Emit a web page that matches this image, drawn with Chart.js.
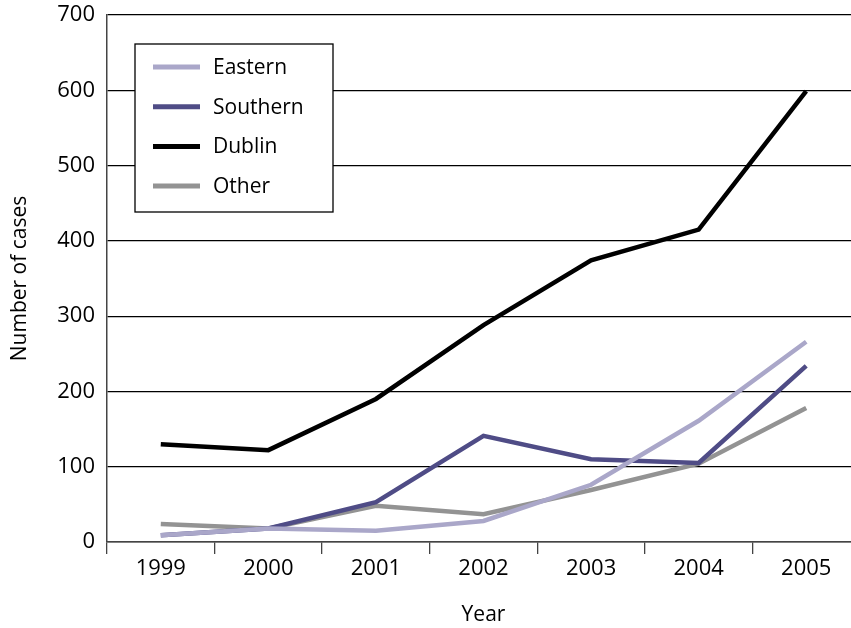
<!DOCTYPE html>
<html><head><meta charset="utf-8">
<script src="https://cdn.jsdelivr.net/npm/chart.js@4.4.0/dist/chart.umd.min.js"></script>
<style>
html,body{margin:0;padding:0;background:#fff;overflow:hidden;width:851px;height:628px}
#wrap{width:880px;height:628px;position:relative}
</style></head>
<body><div id="wrap"><canvas id="c" width="880" height="628"></canvas></div>
<script>
const years = ['1999','2000','2001','2002','2003','2004','2005'];
const eastern  = [9, 18, 15, 28, 76, 161, 266];
const southern = [9, 18, 53, 141, 110, 105, 234];
const dublin   = [130, 122, 190, 288, 374, 415, 599];
const other    = [24, 18, 48, 37, 69, 104, 178];
const seriesNames = ['Eastern','Southern','Dublin','Other'];
const seriesColors = ['#aaa7c9','#4f4c86','#000000','#939393'];
const yTicks = [0,100,200,300,400,500,600,700];

const FONT = '"Open Sans", Lato, sans-serif';

const legendPlugin = {
  id: 'boxLegend',
  afterDraw(chart){
    const ctx = chart.ctx;
    const x0 = 135, y0 = 44, w = 198, h = 168;
    ctx.save();
    ctx.fillStyle = '#fff';
    ctx.fillRect(x0, y0, w, h);
    ctx.strokeStyle = '#000';
    ctx.lineWidth = 1.3;
    ctx.strokeRect(x0, y0, w, h);
    ctx.font = '21px ' + FONT;
    ctx.textBaseline = 'middle';
    chart.data.datasets.forEach((ds, i) => {
      const y = 67 + i * 39.7;
      ctx.strokeStyle = ds.borderColor;
      ctx.lineWidth = 5;
      ctx.beginPath();
      ctx.moveTo(153, y);
      ctx.lineTo(200, y);
      ctx.stroke();
      ctx.fillStyle = '#000';
      ctx.fillText(ds.label, 213, y + 1);
    });
    ctx.restore();
  }
};

const dataArrays = [eastern, southern, dublin, other];
new Chart(document.getElementById('c'), {
  type: 'line',
  data: {
    labels: years,
    datasets: seriesNames.map((n, i) => ({
      label: n,
      data: dataArrays[i],
      borderColor: seriesColors[i],
      backgroundColor: seriesColors[i],
      borderWidth: 4.5,
      pointRadius: 0,
      tension: 0,
      borderJoinStyle: 'miter',
      fill: false
    }))
  },
  options: {
    responsive: false,
    animation: false,
    layout: { padding: { top: 15, right: 20, left: 0, bottom: 0 } },
    plugins: { legend: { display: false }, tooltip: { enabled: false } },
    scales: {
      x: {
        type: 'category',
        offset: true,
        grid: { display: true, drawOnChartArea: false, drawTicks: true, tickLength: 12, color: '#444', lineWidth: 1.3, offset: true },
        border: { display: true, color: '#444', width: 1.5 },
        ticks: { color: '#000', font: { family: FONT, size: 22 }, padding: 2, maxRotation: 0 },
        title: { display: true, text: 'Year', color: '#000', font: { family: FONT, size: 21 }, padding: { top: 0, bottom: 0 } },
        afterFit(s){ s.height = 86; s.paddingLeft = 0; s.paddingRight = 0; }
      },
      y: {
        min: 0, max: 700,
        afterBuildTicks(s){ s.ticks = yTicks.map(v => ({ value: v })); },
        grid: { color: '#000', lineWidth: 1.2, drawTicks: false },
        border: { display: true, color: '#444', width: 1.5 },
        ticks: { color: '#000', font: { family: FONT, size: 22 }, padding: 12 },
        title: { display: true, text: 'Number of cases', color: '#000', font: { family: FONT, size: 21 }, padding: { top: 7, bottom: 0 } },
        afterFit(s){ s.width = 107; s.paddingTop = 0; s.paddingBottom = 0; }
      }
    }
  },
  plugins: [legendPlugin]
});
</script>
</body></html>
